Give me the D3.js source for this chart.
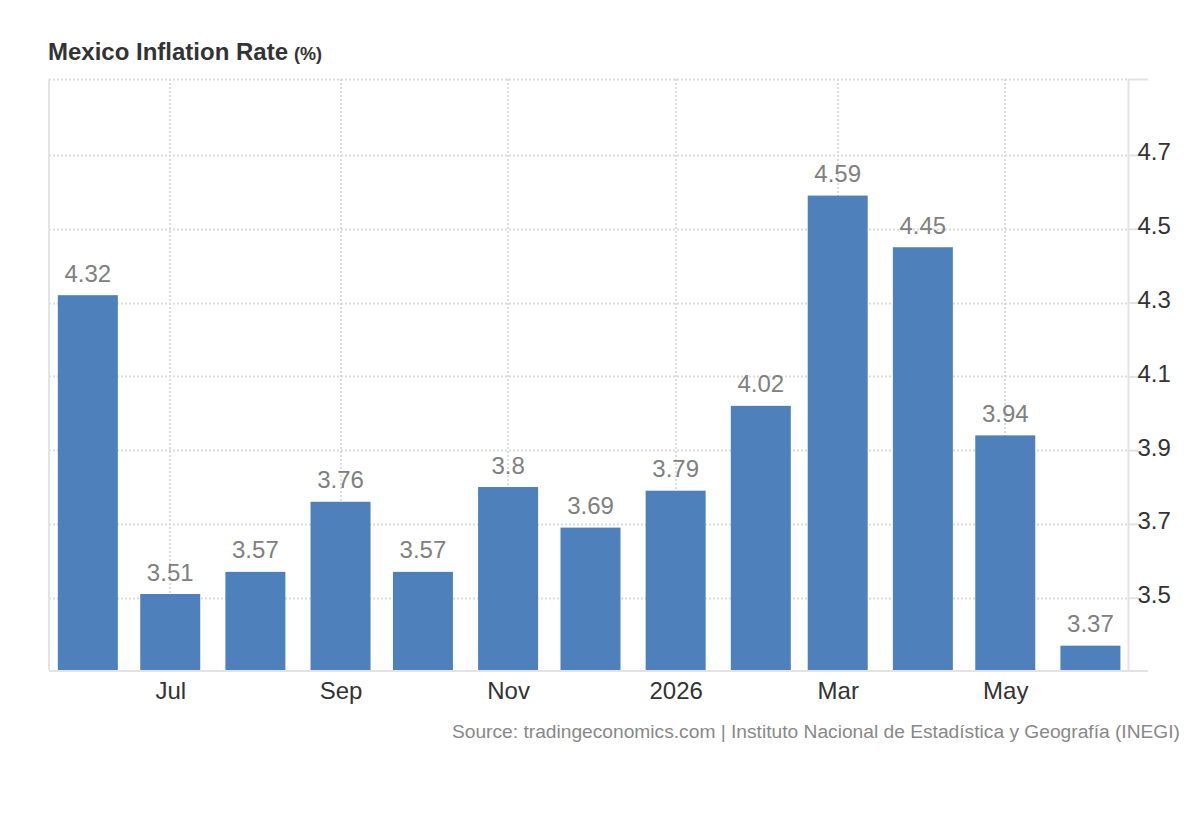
<!DOCTYPE html>
<html>
<head>
<meta charset="utf-8">
<script src="https://cdn.jsdelivr.net/npm/d3@7"></script>
<style>
  html, body { margin: 0; padding: 0; background: #fff; }
  svg { display: block; font-family: "Liberation Sans", Arial, sans-serif; }
</style>
</head>
<body>
<svg id="chart" width="1200" height="820"></svg>
<script>
// ---- data ----
const months = ["2025-06","2025-07","2025-08","2025-09","2025-10","2025-11","2025-12","2026-01","2026-02","2026-03","2026-04","2026-05","2026-06"];
const values = [4.32, 3.51, 3.57, 3.76, 3.57, 3.8, 3.69, 3.79, 4.02, 4.59, 4.45, 3.94, 3.37];
const valueLabels = ["4.32","3.51","3.57","3.76","3.57","3.8","3.69","3.79","4.02","4.59","4.45","3.94","3.37"];
const yTicks = [3.5, 3.7, 3.9, 4.1, 4.3, 4.5, 4.7];
const xTickMonths = ["2025-07","2025-09","2025-11","2026-01","2026-03","2026-05"];
const xTickLabels = ["Jul","Sep","Nov","2026","Mar","May"];
const title = "Mexico Inflation Rate";
const unit = "(%)";
const source = "Source: tradingeconomics.com | Instituto Nacional de Estadística y Geografía (INEGI)";

(function () {
const parse = d3.timeParse("%Y-%m");
const data = months.map((m, i) => ({ date: parse(m), value: values[i], label: valueLabels[i] }));

// ---- layout ----
const pl = 49, pr = 1128.5, pt = 79, pb = 670;
const svg = d3.select("#chart");

const x = d3.scaleTime()
  .domain([new Date(2025, 4, 17, 12), new Date(2026, 5, 14, 12)])
  .range([pl - 1, pr - 1]);
const y = d3.scaleLinear()
  .domain([3.304, 4.906])
  .range([pb, pt]);

const grid = "#dcdcdc";
const axisCol = "#e3e3e3";

// title
const t = svg.append("text")
  .attr("x", 48).attr("y", 60)
  .attr("fill", "#333").attr("font-weight", "bold").attr("font-size", 24)
  .text(title);
t.append("tspan").attr("dx", 6).attr("font-size", 18).text(unit);

// horizontal dotted grid lines
svg.append("g").selectAll("line").data(yTicks.concat([y.domain()[1]])).join("line")
  .attr("x1", pl).attr("x2", pr)
  .attr("y1", d => Math.round(y(d)) + 0.5).attr("y2", d => Math.round(y(d)) + 0.5)
  .attr("stroke", grid).attr("stroke-width", 2).attr("stroke-dasharray", "2,2");

// vertical dotted grid lines
const xTickDates = xTickMonths.map(parse);
svg.append("g").selectAll("line").data(xTickDates).join("line")
  .attr("x1", d => Math.round(x(d))).attr("x2", d => Math.round(x(d)))
  .attr("y1", pt).attr("y2", pb)
  .attr("stroke", grid).attr("stroke-width", 2).attr("stroke-dasharray", "2,2");

// left border
svg.append("line")
  .attr("x1", pl).attr("x2", pl).attr("y1", pt).attr("y2", pb)
  .attr("stroke", axisCol).attr("stroke-width", 2);

// bars
const barW = 60;
svg.append("g").selectAll("rect").data(data).join("rect")
  .attr("x", d => x(d.date) - barW / 2)
  .attr("width", barW)
  .attr("y", d => y(d.value))
  .attr("height", d => pb - y(d.value))
  .attr("fill", "#4e80bc");

// bar labels
svg.append("g").selectAll("text").data(data).join("text")
  .attr("x", d => x(d.date))
  .attr("y", d => y(d.value) - 13.5)
  .attr("text-anchor", "middle")
  .attr("font-size", 24)
  .attr("fill", "#808080")
  .text(d => d.label);

// right y axis
const yAxis = d3.axisRight(y).tickValues(yTicks).tickSize(10).tickPadding(0).tickFormat(d3.format(".1f"));
const gy = svg.append("g").attr("transform", `translate(${pr},0)`).call(yAxis);
gy.select(".domain").remove();
gy.selectAll(".tick line").attr("stroke", axisCol).attr("stroke-width", 2);
gy.selectAll(".tick text")
  .attr("font-family", "Liberation Sans, Arial, sans-serif")
  .attr("font-size", 24).attr("fill", "#333")
  .attr("x", 9).attr("dy", null).attr("y", 5);
svg.append("line")
  .attr("x1", pr).attr("x2", pr).attr("y1", pt).attr("y2", pb)
  .attr("stroke", axisCol).attr("stroke-width", 2);
svg.append("line")
  .attr("x1", pr).attr("x2", 1148).attr("y1", pt + 0.5).attr("y2", pt + 0.5)
  .attr("stroke", axisCol).attr("stroke-width", 2);

// bottom x axis
const xAxis = d3.axisBottom(x).tickValues(xTickDates).tickSize(0).tickPadding(0)
  .tickFormat((d, i) => xTickLabels[i]);
const gx = svg.append("g").attr("transform", `translate(0,${pb})`).call(xAxis);
gx.select(".domain").remove();
gx.selectAll(".tick text")
  .attr("font-family", "Liberation Sans, Arial, sans-serif")
  .attr("font-size", 24).attr("fill", "#333")
  .attr("dy", null).attr("y", 29);
svg.append("line")
  .attr("x1", pl).attr("x2", 1148).attr("y1", pb + 1).attr("y2", pb + 1)
  .attr("stroke", axisCol).attr("stroke-width", 2);

// source
svg.append("text")
  .attr("x", 1180).attr("y", 738)
  .attr("text-anchor", "end")
  .attr("font-size", 19.2).attr("fill", "#888")
  .text(source);
})();
</script>
</body>
</html>
